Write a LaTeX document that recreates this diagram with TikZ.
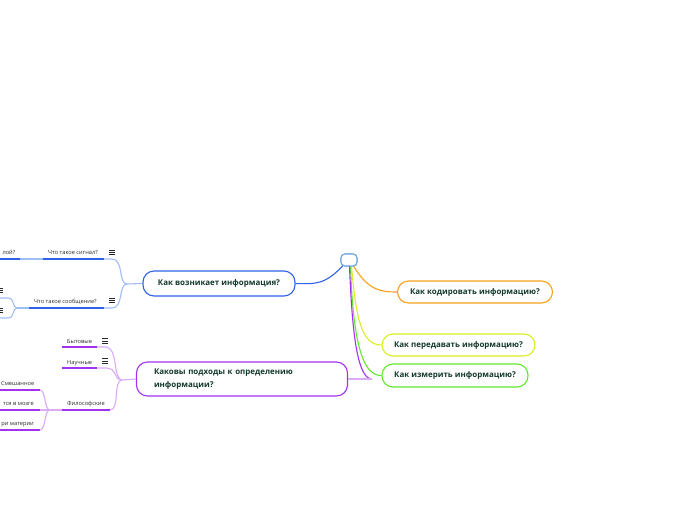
\documentclass[tikz,border=0pt]{standalone}
\usepackage{fontspec}
\setmainfont{Open Sans}
\definecolor{tblue}{HTML}{2F62E8}
\definecolor{lblue}{HTML}{9FBDF5}
\definecolor{cblue}{HTML}{6FA8DC}
\definecolor{tpurp}{HTML}{A232F0}
\definecolor{lpurp}{HTML}{D9ABF8}
\definecolor{torange}{HTML}{F7A21B}
\definecolor{tyellow}{HTML}{D8EE22}
\definecolor{tgreen}{HTML}{62E82C}
\definecolor{ttext}{HTML}{12382C}
\definecolor{stext}{HTML}{2A2A2A}
\tikzset{
  topic/.style={rounded corners=11pt, line width=1.1pt, fill=white, text=ttext,
    font=\fontsize{7.95}{12.5}\selectfont\bfseries, inner sep=0pt},
  lbl/.style={font=\fontsize{5.7}{6.5}\selectfont, text=stext, inner sep=0pt},
  con/.style={line width=1.1pt},
  ul/.style={line width=1.4pt},
  burger/.pic={\draw[line width=0.8pt, stext] (0,0) -- (6,0) (0,2.4) -- (6,2.4) (0,4.8) -- (6,4.8);}
}
\begin{document}
\begin{tikzpicture}[x=1pt,y=-1pt]
\useasboundingbox (0,0) rectangle (696,520);
% central
\node[draw=cblue, line width=1.1pt, rounded corners=4pt, fill=white,
  minimum width=16pt, minimum height=12pt, inner sep=0pt] (c) at (349,260) {};
% topics
\node[topic, draw=tblue, minimum width=152pt, minimum height=25pt] (vozn) at (219,283.5) {Как возникает информация?};
\node[topic, draw=tpurp, minimum width=211pt, minimum height=34pt, text width=176pt, align=left] (podh) at (242,379)
  {Каковы подходы к определению\\информации?};
\node[topic, draw=torange, minimum width=155pt, minimum height=22pt] (kod) at (475,292) {Как кодировать информацию?};
\node[topic, draw=tyellow, minimum width=153pt, minimum height=22pt] (per) at (458.5,345) {Как передавать информацию?};
\node[topic, draw=tgreen, minimum width=146pt, minimum height=23pt] (izm) at (455,375.5) {Как измерить информацию?};
% coordinates from central node
\coordinate (cb) at (343,265.5);
\coordinate (co) at (353.5,266);
\coordinate (cy) at (351.5,266);
\coordinate (cg) at (350.5,266);
\coordinate (cp) at (349.5,266);
\coordinate (pj) at (372,379);
% main connectors
\draw[con, tblue] (cb) .. controls (325,285) and (315,284) .. (vozn.east);
\draw[con, torange] (co) .. controls (368,290) and (380,292) .. (kod.west);
\draw[con, tyellow] (cy) .. controls (356,320) and (362,345) .. (per.west);
\draw[con, tgreen] (cg) .. controls (353,340) and (362,376) .. (izm.west);
\draw[con, tpurp] (cp) .. controls (352,330) and (357,379) .. (pj);
\draw[con, lpurp] (pj) -- (podh.east);
% redraw central on top
\node[draw=cblue, line width=1.1pt, rounded corners=4pt, fill=white,
  minimum width=16pt, minimum height=12pt, inner sep=0pt] at (c) {};

% ---------- blue subtree ----------
\coordinate (j1) at (127,284);
\coordinate (sigR) at (104,259);
\coordinate (sigL) at (43,259);
\coordinate (s1R) at (20,259);
\coordinate (s1L) at (0,259);
\coordinate (sooR) at (104,308);
\coordinate (sooL) at (29,308);
\coordinate (j3) at (17,308);
\coordinate (a1) at (8,298);
\coordinate (a1L) at (0,298);
\coordinate (a2) at (8,318);
\coordinate (a2L) at (0,318);
\draw[con, lblue] (vozn.west) -- (j1);
\draw[con, lblue] (j1) .. controls (118,284) and (124,259) .. (112,259) -- (sigR);
\draw[con, lblue] (j1) .. controls (118,284) and (124,308) .. (112,308) -- (sooR);
\draw[ul, tblue] (sigL) -- (sigR);
\draw[con, lblue] (sigL) -- (s1R);
\draw[ul, tblue] (s1R) -- (s1L);
\draw[ul, tblue] (sooL) -- (sooR);
\draw[con, lblue] (sooL) -- (j3);
\draw[con, lblue] (j3) .. controls (12,308) and (15,298) .. (a1) -- (a1L);
\draw[con, lblue] (j3) .. controls (12,308) and (15,318) .. (a2) -- (a2L);
\node[lbl, anchor=base west] (sig) at (48,254.5) {Что такое сигнал?};
\node[lbl, anchor=base east] (s1) at (15.5,254.5) {лой?};
\node[lbl, anchor=base west] (soo) at (34,303) {Что такое сообщение?};
\pic at (109,250) {burger};
\pic at (109,298) {burger};
\pic at (-3,288) {burger};
\pic at (-3,308) {burger};

% ---------- purple subtree ----------
\coordinate (j2) at (122,380);
\coordinate (bytR) at (97,347);
\coordinate (bytL) at (62,347);
\coordinate (nauR) at (97,368);
\coordinate (nauL) at (62,368);
\coordinate (filR) at (110,410);
\coordinate (filL) at (62,410);
\coordinate (j4) at (50,410);
\coordinate (m1R) at (40,390);
\coordinate (m1L) at (0,390);
\coordinate (m2R) at (40,410);
\coordinate (m2L) at (0,410);
\coordinate (m3R) at (40,430);
\coordinate (m3L) at (0,430);
\draw[con, lpurp] (podh.west) -- (j2);
\draw[con, lpurp] (j2) .. controls (113,380) and (118,347) .. (106,347) -- (bytR);
\draw[con, lpurp] (j2) .. controls (113,380) and (118,368) .. (106,368) -- (nauR);
\draw[con, lpurp] (j2) .. controls (113,380) and (120,410) .. (filR);
\draw[ul, tpurp] (bytL) -- (bytR);
\draw[ul, tpurp] (nauL) -- (nauR);
\draw[ul, tpurp] (filL) -- (filR);
\draw[con, lpurp] (filL) -- (j4);
\draw[con, lpurp] (j4) .. controls (44,410) and (46,390) .. (m1R);
\draw[con, lpurp] (j4) -- (m2R);
\draw[con, lpurp] (j4) .. controls (44,410) and (46,430) .. (m3R);
\draw[ul, tpurp] (m1L) -- (m1R);
\draw[ul, tpurp] (m2L) -- (m2R);
\draw[ul, tpurp] (m3L) -- (m3R);
\node[lbl, anchor=base west] (byt) at (67,343.5) {Бытовые};
\node[lbl, anchor=base west] (nau) at (67,364) {Научные};
\node[lbl, anchor=base west] (fil) at (67,405.5) {Философские};
\node[lbl, anchor=base west] (m1) at (1,385) {Смешанное};
\node[lbl, anchor=base east] (m2) at (34,405) {тся в мозге};
\node[lbl, anchor=base east] (m3) at (34,425.5) {ри материи};
\pic at (102,338.5) {burger};
\pic at (102,358.5) {burger};
\end{tikzpicture}
\end{document}
